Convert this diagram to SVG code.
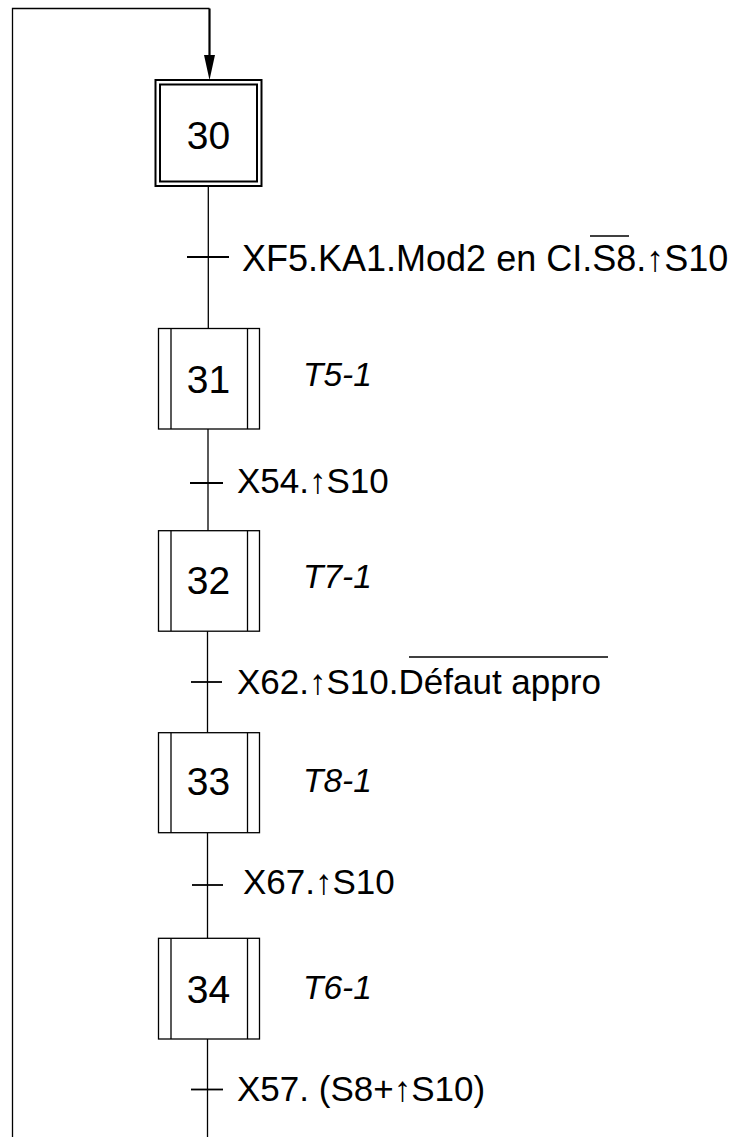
<svg xmlns="http://www.w3.org/2000/svg" width="737" height="1137" viewBox="0 0 737 1137">
<style>
.bg{fill:#fff}
.ln{stroke:#000;stroke-width:1.3;fill:none}
.thick{stroke:#000;stroke-width:2.2;fill:none}
.box{stroke:#000;stroke-width:1.3;fill:#fff}
.num{font-family:"Liberation Sans",Arial,sans-serif;font-size:39px;text-anchor:middle;fill:#000}
.act{font-family:"Liberation Sans",Arial,sans-serif;font-size:33.5px;font-style:italic;fill:#000}
.cond{font-family:"Liberation Sans",Arial,sans-serif;font-size:35px;fill:#000}
.up{font-weight:bold}
.tick{stroke:#000;stroke-width:1.8}
</style>
<rect class="bg" x="0" y="0" width="737" height="1137"/>
<g id="connectors">
<polyline class="ln" points="12.5,1137 12.5,8.5 209.5,8.5"/>
<line class="thick" x1="209.5" y1="8.5" x2="209.5" y2="55"/>
<path d="M204,55 L215,55 L209.5,80 Z" fill="#000"/>
<line class="ln" x1="208.3" y1="186" x2="208.3" y2="328"/>
<line class="ln" x1="208" y1="429" x2="208" y2="531"/>
<line class="ln" x1="207.5" y1="631" x2="207.5" y2="733"/>
<line class="ln" x1="207.5" y1="833" x2="207.5" y2="938"/>
<line class="ln" x1="207.5" y1="1039" x2="207.5" y2="1137"/>
</g>
<g id="step30">
<rect x="155.5" y="80" width="106" height="106" fill="#fff" stroke="#000" stroke-width="2"/>
<rect x="160" y="84.5" width="97" height="97" fill="#fff" stroke="#000" stroke-width="2"/>
<text class="num" x="208.5" y="148.5">30</text>
</g>
<g id="t1">
<line class="tick" x1="187" y1="257" x2="229" y2="257"/>
<text class="cond" x="242" y="271" style="font-size:36px">XF5.KA1.Mod2 en CI.S8.<tspan class="up">↑</tspan>S10</text>
<line class="ln" x1="590" y1="236" x2="629" y2="236"/>
</g>
<g id="step31">
<rect class="box" x="158.5" y="328.5" width="101" height="100.5"/>
<line class="ln" x1="171" y1="328.5" x2="171" y2="429"/>
<line class="ln" x1="247.5" y1="328.5" x2="247.5" y2="429"/>
<text class="num" x="208.5" y="392.5">31</text>
<text class="act" x="303" y="386">T5-1</text>
</g>
<g id="t2">
<line class="tick" x1="190" y1="483" x2="223" y2="483"/>
<text class="cond" x="237" y="493">X54.<tspan class="up">↑</tspan>S10</text>
</g>
<g id="step32">
<rect class="box" x="158.5" y="530.7" width="101" height="100.5"/>
<line class="ln" x1="171" y1="530.7" x2="171" y2="631"/>
<line class="ln" x1="247.5" y1="530.7" x2="247.5" y2="631"/>
<text class="num" x="208.5" y="594">32</text>
<text class="act" x="303" y="588">T7-1</text>
</g>
<g id="t3">
<line class="tick" x1="191" y1="682" x2="222" y2="682"/>
<text class="cond" x="237" y="694">X62.<tspan class="up">↑</tspan>S10.Défaut appro</text>
<line class="ln" x1="409" y1="657" x2="608" y2="657"/>
</g>
<g id="step33">
<rect class="box" x="158.5" y="732.7" width="101" height="100"/>
<line class="ln" x1="171" y1="732.7" x2="171" y2="832.7"/>
<line class="ln" x1="247.5" y1="732.7" x2="247.5" y2="832.7"/>
<text class="num" x="208.5" y="795">33</text>
<text class="act" x="303" y="791.5">T8-1</text>
</g>
<g id="t4">
<line class="tick" x1="192" y1="885" x2="223" y2="885"/>
<text class="cond" x="243" y="894">X67.<tspan class="up">↑</tspan>S10</text>
</g>
<g id="step34">
<rect class="box" x="158.5" y="938.3" width="101" height="100.7"/>
<line class="ln" x1="171" y1="938.3" x2="171" y2="1039"/>
<line class="ln" x1="247.5" y1="938.3" x2="247.5" y2="1039"/>
<text class="num" x="208.5" y="1003">34</text>
<text class="act" x="303" y="999">T6-1</text>
</g>
<g id="t5">
<line class="tick" x1="191" y1="1089.5" x2="223" y2="1089.5"/>
<text class="cond" x="237" y="1101">X57. (S8+<tspan class="up">↑</tspan>S10)</text>
</g>
</svg>
